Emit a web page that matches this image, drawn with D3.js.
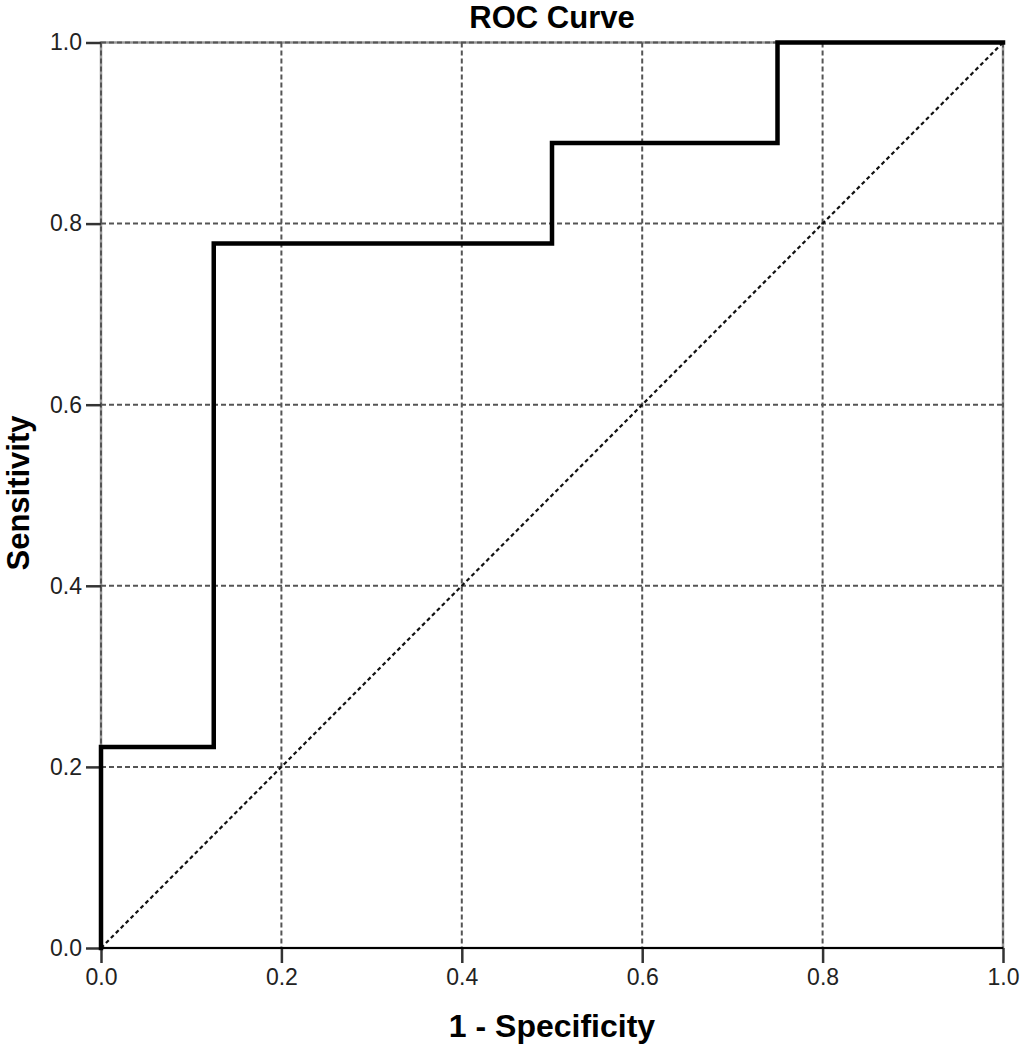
<!DOCTYPE html>
<html><head><meta charset="utf-8">
<script src="https://cdn.jsdelivr.net/npm/d3@7"></script>
<style>body{margin:0;background:#fff}svg{display:block}</style>
</head><body>
<script>
const fpr = [0, 0, 0.125, 0.125, 0.5, 0.5, 0.75, 0.75, 1];
const tpr = [0, 0.222, 0.222, 0.778, 0.778, 0.889, 0.889, 1, 1];
const refLine = [0, 1];
const tickValues = [0, 0.2, 0.4, 0.6, 0.8, 1.0];
const title = "ROC Curve";
const xLabel = "1 - Specificity";
const yLabel = "Sensitivity";

const W = 1020, H = 1050;
const L = 101, R = 1003, T = 42.5, B = 948;
const svg = d3.select("body").append("svg").attr("width", W).attr("height", H);
const x = d3.scaleLinear().domain([0, 1]).range([L, R]);
const y = d3.scaleLinear().domain([0, 1]).range([B, T]);
const font = "'Liberation Sans', Arial, sans-serif";

// frame
svg.append("rect").attr("x", L).attr("y", T).attr("width", R - L).attr("height", B - T)
  .attr("fill", "none").attr("stroke", "#999").attr("stroke-width", 2.5);

// gridlines
const g = svg.append("g");
g.selectAll(".vg").data(tickValues).join("line")
  .attr("x1", d => x(d)).attr("x2", d => x(d)).attr("y1", T).attr("y2", B)
  .attr("stroke", "#555").attr("stroke-width", 2).attr("stroke-dasharray", "5,3");
g.selectAll(".hg").data(tickValues).join("line")
  .attr("y1", d => y(d)).attr("y2", d => y(d)).attr("x1", L).attr("x2", R)
  .attr("stroke", "#555").attr("stroke-width", 2).attr("stroke-dasharray", "5,3");

// axes
const xAxis = svg.append("g").attr("transform", `translate(0,${B})`)
  .call(d3.axisBottom(x).tickValues(tickValues).tickFormat(d3.format(".1f")).tickSize(15).tickPadding(6));
const yAxis = svg.append("g").attr("transform", `translate(${L},0)`)
  .call(d3.axisLeft(y).tickValues(tickValues).tickFormat(d3.format(".1f")).tickSize(15).tickPadding(4));
[xAxis, yAxis].forEach(a => {
  a.select(".domain").remove();
  a.selectAll(".tick line").attr("stroke", "#333").attr("stroke-width", 2.5);
  a.selectAll(".tick text").attr("font-family", font).attr("font-size", 23).attr("fill", "#222");
});
// bottom axis line
svg.append("line").attr("x1", L).attr("x2", R).attr("y1", B).attr("y2", B)
  .attr("stroke", "#000").attr("stroke-width", 2);

// diagonal reference
svg.append("line").attr("x1", x(refLine[0])).attr("y1", y(refLine[0]))
  .attr("x2", x(refLine[1])).attr("y2", y(refLine[1]))
  .attr("stroke", "#111").attr("stroke-width", 2.2).attr("stroke-dasharray", "4,3");

// ROC curve
const pts = fpr.map((f, i) => [f, tpr[i]]);
svg.append("path").datum(pts)
  .attr("d", d3.line().x(d => x(d[0])).y(d => y(d[1])))
  .attr("fill", "none").attr("stroke", "#000").attr("stroke-width", 4.5)
  .attr("stroke-linejoin", "miter").attr("stroke-linecap", "square");

// labels
svg.append("text").attr("x", (L + R) / 2).attr("y", 28).attr("text-anchor", "middle")
  .attr("font-family", font).attr("font-weight", "bold").attr("font-size", 31).text(title);
svg.append("text").attr("x", (L + R) / 2).attr("y", 1037).attr("text-anchor", "middle")
  .attr("font-family", font).attr("font-weight", "bold").attr("font-size", 32).text(xLabel);
svg.append("text").attr("transform", "translate(29,493) rotate(-90)").attr("text-anchor", "middle")
  .attr("font-family", font).attr("font-weight", "bold").attr("font-size", 31).text(yLabel);
</script>
</body></html>
